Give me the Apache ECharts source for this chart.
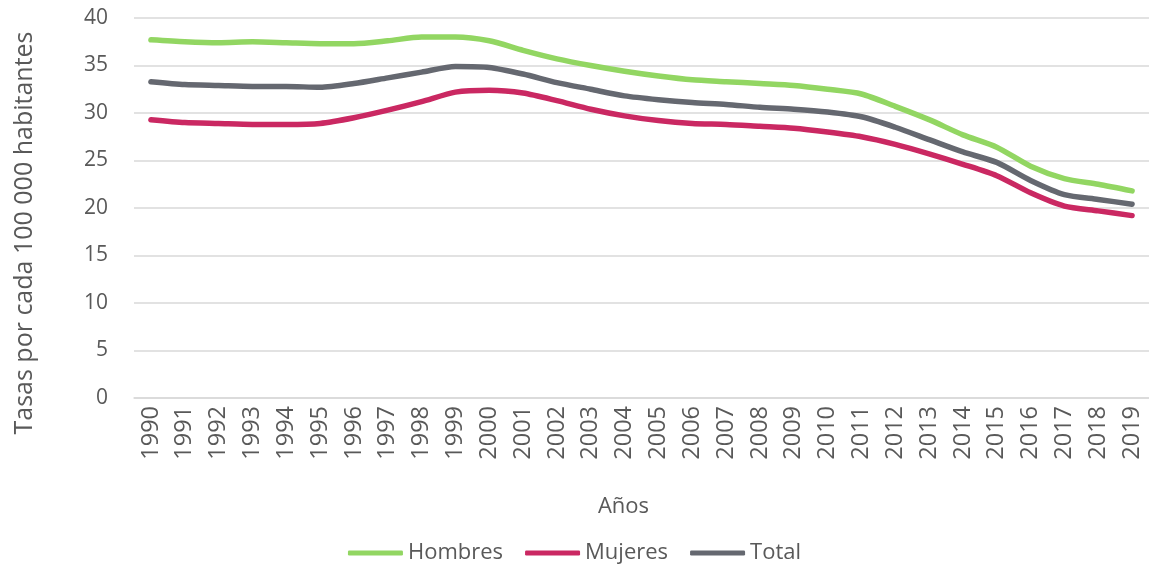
<!DOCTYPE html>
<html lang="es">
<head>
<meta charset="utf-8">
<title>Tasas por cada 100 000 habitantes, 1990-2019</title>
<script src="https://cdn.jsdelivr.net/npm/echarts@6/dist/echarts.min.js"></script>
<style>
  html, body { margin: 0; padding: 0; background: #ffffff; }
  #chart { width: 1149px; height: 569px; }
</style>
</head>
<body>
<div id="chart"></div>
<script>
// Años del eje de categorías
const years = ['1990','1991','1992','1993','1994','1995','1996','1997','1998','1999',
               '2000','2001','2002','2003','2004','2005','2006','2007','2008','2009',
               '2010','2011','2012','2013','2014','2015','2016','2017','2018','2019'];

// Tasas por cada 100 000 habitantes
const hombres = [37.7, 37.5, 37.4, 37.5, 37.4, 37.3, 37.3, 37.6, 38.0, 38.0,
                 37.6, 36.6, 35.7, 35.0, 34.4, 33.9, 33.5, 33.3, 33.1, 32.9,
                 32.5, 32.0, 30.7, 29.3, 27.7, 26.4, 24.4, 23.1, 22.5, 21.8];
const mujeres = [29.3, 29.0, 28.9, 28.8, 28.8, 28.9, 29.5, 30.3, 31.2, 32.2,
                 32.4, 32.1, 31.3, 30.4, 29.7, 29.2, 28.9, 28.8, 28.6, 28.4,
                 28.0, 27.5, 26.7, 25.7, 24.6, 23.4, 21.6, 20.2, 19.7, 19.2];
const total   = [33.3, 33.0, 32.9, 32.8, 32.8, 32.7, 33.1, 33.7, 34.3, 34.9,
                 34.8, 34.1, 33.2, 32.5, 31.8, 31.4, 31.1, 30.9, 30.6, 30.4,
                 30.1, 29.6, 28.5, 27.2, 25.9, 24.8, 22.9, 21.4, 20.9, 20.4];

const seriesNames = ['Hombres', 'Mujeres', 'Total'];
const seriesColors = ['#92D662', '#CA2862', '#656870'];

const FONT = '"Open Sans", "Noto Sans", sans-serif';
const TEXT = '#595959';

const chart = echarts.init(document.getElementById('chart'), null, { renderer: 'canvas' });

function lineSeries(name, data, color) {
  return {
    name: name,
    type: 'line',
    data: data,
    symbol: 'none',
    smooth: 0.25,
    lineStyle: { color: color, width: 5.5, cap: 'round', join: 'round' },
    itemStyle: { color: color },
    emphasis: { disabled: true }
  };
}

chart.setOption({
  animation: false,
  backgroundColor: '#ffffff',
  grid: { left: 134, right: 0, top: 18, bottom: 171, containLabel: false },
  legend: {
    bottom: 0,
    left: 'center',
    icon: 'roundRect',
    itemWidth: 55,
    itemHeight: 5,
    itemGap: 22,
    data: seriesNames,
    textStyle: { color: TEXT, fontFamily: FONT, fontSize: 22 }
  },
  xAxis: {
    type: 'category',
    data: years,
    boundaryGap: true,
    name: 'Años',
    nameLocation: 'middle',
    nameGap: 98,
    nameTextStyle: { color: TEXT, fontFamily: FONT, fontSize: 22, padding: [0, 36, 0, 0] },
    axisLine: { show: true, lineStyle: { color: '#D9D9D9', width: 1.5 } },
    axisTick: { show: false },
    axisLabel: {
      rotate: 90,
      margin: 8,
      color: TEXT,
      fontFamily: FONT,
      fontSize: 23.5,
      interval: 0
    }
  },
  yAxis: {
    type: 'value',
    min: 0,
    max: 40,
    interval: 5,
    name: 'Tasas por cada 100 000 habitantes',
    nameLocation: 'middle',
    nameRotate: 90,
    nameGap: 97,
    nameTextStyle: { color: TEXT, fontFamily: FONT, fontSize: 25, padding: [0, 50, 0, 0] },
    axisLine: { show: false },
    axisTick: { show: false },
    splitLine: { show: true, lineStyle: { color: '#D9D9D9', width: 1.5 } },
    axisLabel: { margin: 26, color: TEXT, fontFamily: FONT, fontSize: 21 }
  },
  series: [
    lineSeries(seriesNames[0], hombres, seriesColors[0]),
    lineSeries(seriesNames[1], mujeres, seriesColors[1]),
    lineSeries(seriesNames[2], total, seriesColors[2])
  ]
});
</script>
</body>
</html>
